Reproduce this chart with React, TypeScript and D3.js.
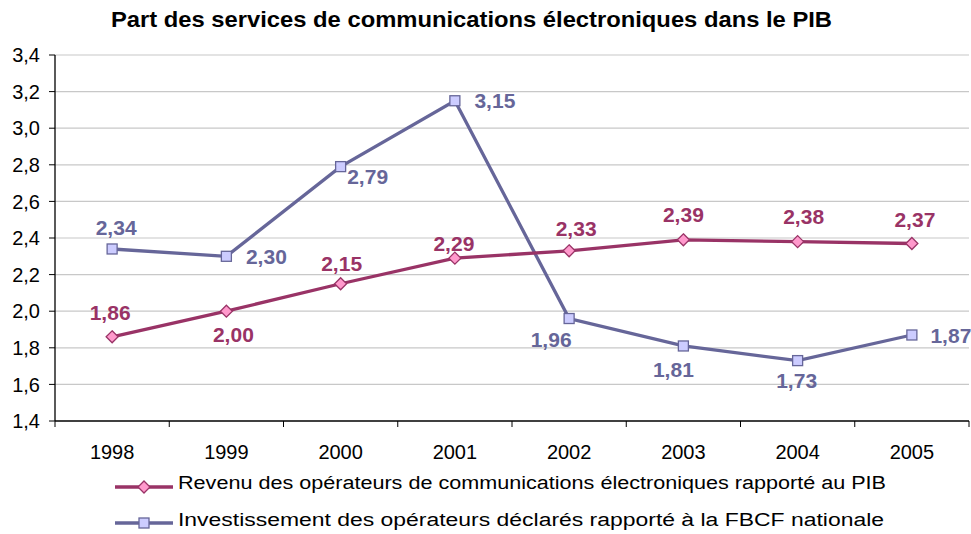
import React from "react";
import * as d3 from "d3";

const years = ["1998", "1999", "2000", "2001", "2002", "2003", "2004", "2005"];
const revenu = [1.86, 2.0, 2.15, 2.29, 2.33, 2.39, 2.38, 2.37];
const invest = [2.34, 2.3, 2.79, 3.15, 1.96, 1.81, 1.73, 1.87];
const yTicks = [1.4, 1.6, 1.8, 2.0, 2.2, 2.4, 2.6, 2.8, 3.0, 3.2, 3.4];
const title = "Part des services de communications électroniques dans le PIB";
const legendRev = "Revenu des opérateurs de communications électroniques rapporté au PIB";
const legendInv = "Investissement des opérateurs déclarés rapporté à la FBCF nationale";

// label placement offsets (dx, dy) relative to point
const revOff: [number, number][] = [[-2, -24], [7, 23], [1, -20], [-1, -15], [7, -22], [0, -25], [6, -25], [3, -24]];
const invOff: [number, number][] = [[4, -22], [40, 0], [27, 10], [40, 0], [-18, 21], [-10, 23], [-1, 20], [39, 0]];

const W = 971, H = 534;
const m = { left: 55, right: 969, top: 55, bottom: 421 };
const RED = "#993366", RED_FILL = "#FF99CC";
const BLUE = "#666699", BLUE_FILL = "#CCCCFF";
const FONT = "'Liberation Sans', Arial, sans-serif";

export default function App() {
  const x = d3.scaleBand<string>().domain(years).range([m.left, m.right]);
  const y = d3.scaleLinear().domain([1.4, 3.4]).range([m.bottom, m.top]);
  const cx = (yr: string) => (x(yr) as number) + x.bandwidth() / 2;
  const line = d3.line<number>().x((_, i) => cx(years[i])).y((v) => y(v));
  const fmt = (v: number) => v.toFixed(2).replace(".", ",");
  const fmt1 = (v: number) => v.toFixed(1).replace(".", ",");
  const diamond = (px: number, py: number, r: number) =>
    `M${px},${py - r}L${px + r},${py}L${px},${py + r}L${px - r},${py}Z`;

  return (
    <svg width={W} height={H} style={{ display: "block", position: "absolute", left: 0, top: 0 }} fontFamily={FONT}>
      <rect width={W} height={H} fill="#fff" />
      <text x={111} y={27} fontWeight="bold" fontSize={22} textLength={721} lengthAdjust="spacingAndGlyphs">{title}</text>
      {yTicks.map((t) => (
        <g key={t}>
          {t > 1.4 && <line x1={m.left} x2={m.right} y1={y(t)} y2={y(t)} stroke="#C8C8C8" strokeWidth={1.2} />}
          <line x1={m.left - 6} x2={m.left} y1={y(t)} y2={y(t)} stroke="#000" />
          <text x={40} y={y(t)} dy="0.36em" textAnchor="end" fontSize={20}>{fmt1(t)}</text>
        </g>
      ))}
      <line x1={m.left} x2={m.left} y1={m.top} y2={m.bottom} stroke="#000" strokeWidth={1.3} />
      <line x1={m.left} x2={m.right} y1={m.bottom} y2={m.bottom} stroke="#000" strokeWidth={1.3} />
      {years.map((yr) => (
        <g key={yr}>
          <line x1={x(yr) as number} x2={x(yr) as number} y1={m.bottom} y2={m.bottom + 6} stroke="#000" />
          <text x={cx(yr)} y={459} textAnchor="middle" fontSize={20}>{yr}</text>
        </g>
      ))}
      <line x1={m.right} x2={m.right} y1={m.bottom} y2={m.bottom + 6} stroke="#000" />

      <path d={line(invest) || ""} fill="none" stroke={BLUE} strokeWidth={3.3} />
      <path d={line(revenu) || ""} fill="none" stroke={RED} strokeWidth={3.3} />
      {invest.map((v, i) => (
        <rect key={"i" + i} x={cx(years[i]) - 5} y={y(v) - 5} width={10} height={10} fill={BLUE_FILL} stroke={BLUE} strokeWidth={1.3} />
      ))}
      {revenu.map((v, i) => (
        <path key={"r" + i} d={diamond(cx(years[i]), y(v), 6)} fill={RED_FILL} stroke={RED} strokeWidth={1.3} />
      ))}
      {revenu.map((v, i) => (
        <text key={"rl" + i} x={cx(years[i]) + revOff[i][0]} y={y(v) + revOff[i][1]} dy="0.36em" textAnchor="middle" fontSize={21} fontWeight="bold" fill={RED}>{fmt(v)}</text>
      ))}
      {invest.map((v, i) => (
        <text key={"il" + i} x={cx(years[i]) + invOff[i][0]} y={y(v) + invOff[i][1]} dy="0.36em" textAnchor="middle" fontSize={21} fontWeight="bold" fill={BLUE}>{fmt(v)}</text>
      ))}

      <g>
        <line x1={115} x2={173} y1={487} y2={487} stroke={RED} strokeWidth={3.3} />
        <path d={diamond(144, 487, 6)} fill={RED_FILL} stroke={RED} strokeWidth={1.3} />
        <text x={178} y={489} fontSize={18} textLength={708} lengthAdjust="spacingAndGlyphs">{legendRev}</text>
        <line x1={115} x2={173} y1={523} y2={523} stroke={BLUE} strokeWidth={3.3} />
        <rect x={139} y={518} width={10} height={10} fill={BLUE_FILL} stroke={BLUE} strokeWidth={1.3} />
        <text x={178} y={526} fontSize={18} textLength={706} lengthAdjust="spacingAndGlyphs">{legendInv}</text>
      </g>
    </svg>
  );
}
